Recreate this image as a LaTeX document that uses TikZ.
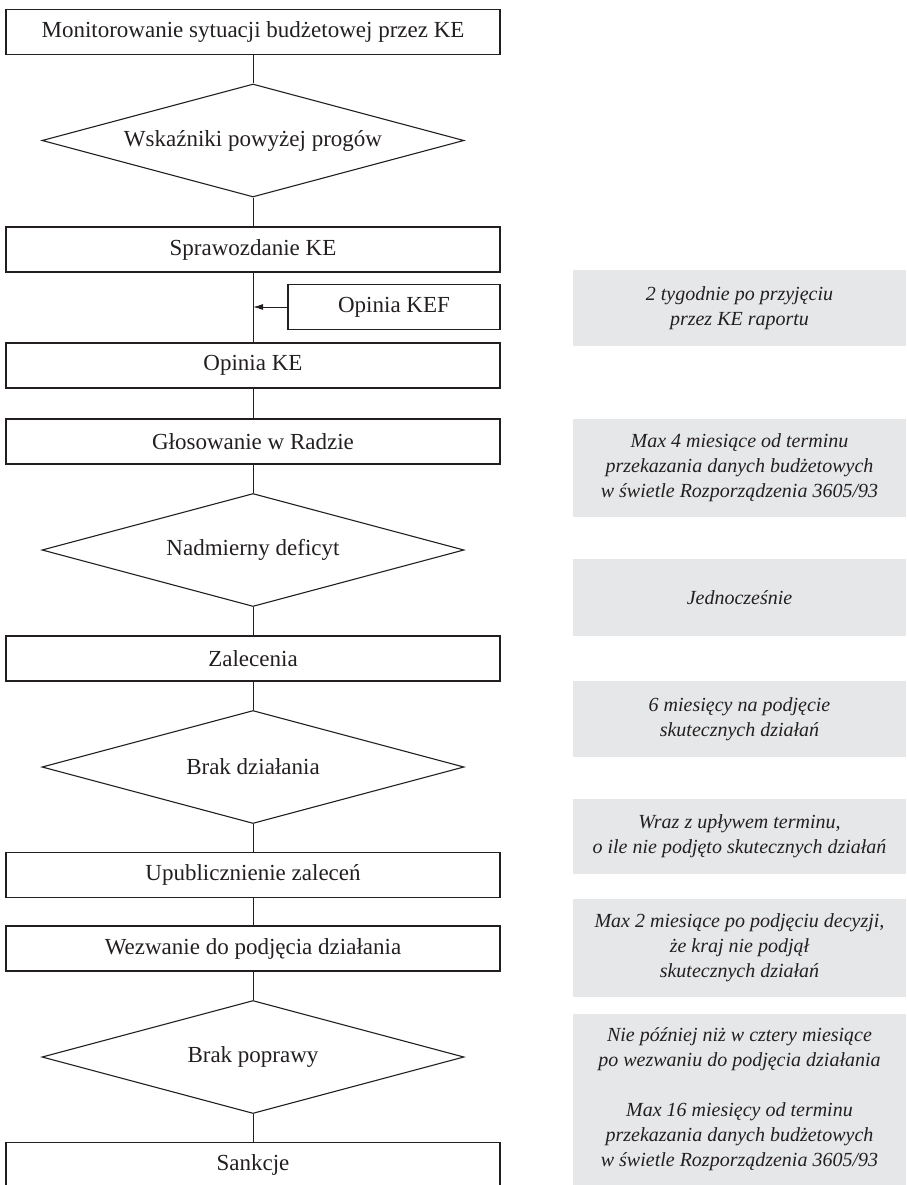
\documentclass[tikz,border=0pt]{standalone}
\usepackage{fontspec}
\setmainfont{Liberation Serif}
\usetikzlibrary{shapes.geometric,arrows.meta}
\definecolor{notegray}{HTML}{E6E7E8}
\definecolor{ink}{HTML}{231F20}
\tikzset{
  stepbox/.style={draw=ink, line width=1.1pt, rectangle, minimum width=494pt,
    minimum height=45pt, inner sep=0pt, text=ink,
    font=\fontsize{23}{27}\selectfont},
  decision/.style={draw=ink, line width=1.1pt, diamond, aspect=3.7,
    minimum width=422pt, minimum height=113pt, inner sep=0pt, text=ink,
    font=\fontsize{23}{27}\selectfont},
  note/.style={fill=notegray, rectangle, minimum width=333pt, inner sep=0pt,
    align=center, text=ink, font=\fontsize{20}{25}\selectfont\itshape},
  link/.style={draw=ink, line width=1pt}
}
\begin{document}
\begin{tikzpicture}[x=1pt, y=-1pt]
  \useasboundingbox (0,0) rectangle (906,1185);
  \clip (0,0) rectangle (906,1185);

  % main flow
  \node[stepbox]  (b1) at (253,32)    {Monitorowanie sytuacji budżetowej przez KE};
  \node[decision] (d1) at (253,140.5) {Wskaźniki powyżej progów};
  \node[stepbox]  (b2) at (253,249.5) {Sprawozdanie KE};
  \node[stepbox, minimum width=212pt] (kef) at (394,307) {Opinia KEF};
  \node[stepbox]  (b3) at (253,365.5) {Opinia KE};
  \node[stepbox]  (b4) at (253,441.5) {Głosowanie w Radzie};
  \node[decision] (d2) at (253,550)   {Nadmierny deficyt};
  \node[stepbox]  (b5) at (253,658.5) {Zalecenia};
  \node[decision] (d3) at (253,767)   {Brak działania};
  \node[stepbox]  (b6) at (253,875)   {Upublicznienie zaleceń};
  \node[stepbox]  (b7) at (253,948.5) {Wezwanie do podjęcia działania};
  \node[decision] (d4) at (253,1057)  {Brak poprawy};
  \node[stepbox]  (b8) at (253,1165)  {Sankcje};

  % connectors
  \draw[link] (b1.south) -- (d1.north);
  \draw[link] (d1.south) -- (b2.north);
  \draw[link] (b2.south) -- (b3.north);
  \draw[link] (b3.south) -- (b4.north);
  \draw[link] (b4.south) -- (d2.north);
  \draw[link] (d2.south) -- (b5.north);
  \draw[link] (b5.south) -- (d3.north);
  \draw[link] (d3.south) -- (b6.north);
  \draw[link] (b6.south) -- (b7.north);
  \draw[link] (b7.south) -- (d4.north);
  \draw[link] (d4.south) -- (b8.north);
  \draw[link, -{Latex[length=10pt,width=6pt]}] (kef.west) -- (kef.west -| b2.south);

  % time notes
  \node[note, minimum height=76pt] (n1) at (739.5,308)
    {2 tygodnie po przyjęciu\\przez KE raportu};
  \node[note, minimum height=98pt] (n2) at (739.5,468)
    {Max 4 miesiące od terminu\\przekazania danych budżetowych\\w świetle Rozporządzenia 3605/93};
  \node[note, minimum height=77pt] (n3) at (739.5,597.5)
    {Jednocześnie};
  \node[note, minimum height=76pt] (n4) at (739.5,719)
    {6 miesięcy na podjęcie\\skutecznych działań};
  \node[note, minimum height=75pt] (n5) at (739.5,836.5)
    {Wraz z upływem terminu,\\o ile nie podjęto skutecznych działań};
  \node[note, minimum height=98pt] (n6) at (739.5,948)
    {Max 2 miesiące po podjęciu decyzji,\\że kraj nie podjął\\skutecznych działań};
  \node[note, minimum height=171pt] (n7) at (739.5,1099.5)
    {Nie później niż w cztery miesiące\\po wezwaniu do podjęcia działania\\[25pt]
     Max 16 miesięcy od terminu\\przekazania danych budżetowych\\w świetle Rozporządzenia 3605/93};
\end{tikzpicture}
\end{document}
